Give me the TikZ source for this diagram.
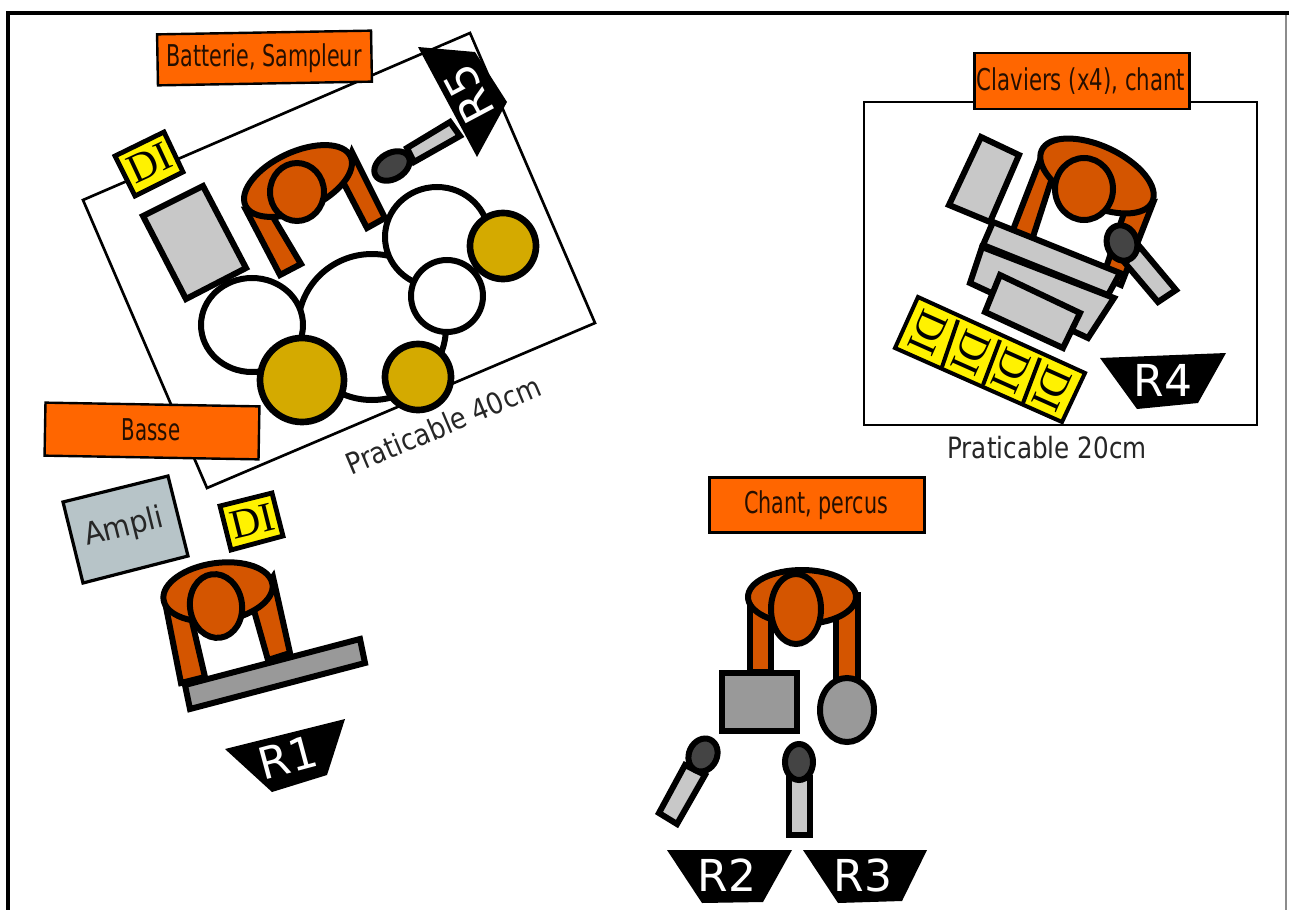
\documentclass[tikz,border=0pt]{standalone}
\usepackage{fontspec}
\usepackage{graphicx}
\setmainfont{DejaVu Sans}
\newfontfamily\difont{Liberation Serif}
\definecolor{labelor}{HTML}{FF6600}
\definecolor{bodyor}{HTML}{D45500}
\definecolor{goldc}{HTML}{D4AA00}
\definecolor{lgray}{HTML}{C8C8C8}
\definecolor{mgray}{HTML}{999999}
\definecolor{dgray}{HTML}{444444}
\definecolor{ampc}{HTML}{B7C4C8}
\newcommand{\sq}[2]{\scalebox{#1}[1]{#2}}
\newcommand{\Elli}[6]{\path[#6,rotate around={#5:(#1,#2)}] (#1,#2) circle[x radius=#3,y radius=#4];}
\tikzset{
 x=0.75pt,y=-0.75pt,
 stage/.style={draw=black,line width=2pt,fill=white,line join=miter},
 thing/.style={draw=black,line width=4.5pt,line join=miter},
 body/.style={thing,fill=bodyor},
 lg/.style={thing,fill=lgray},
 mg/.style={thing,fill=mgray},
 headc/.style={thing,fill=dgray},
 drum/.style={thing,fill=white},
 cym/.style={thing,fill=goldc,line width=5pt},
 tagbox/.style={draw=black,line width=1.8pt,fill=labelor},
 tagtxt/.style={inner sep=0pt,text=black!85!labelor,font=\fontsize{22.5}{26}\selectfont},
 ditag/.style={draw=black,line width=3.6pt,fill=yellow},
 ditxt/.style={inner sep=0pt,font=\difont\fontsize{31}{32}\selectfont},
 rowdi/.style={inner sep=0pt,font=\difont\fontsize{31}{32}\selectfont},
 rbox/.style={fill=black},
 rtxt/.style={inner sep=0pt,text=white,font=\fontsize{33}{36}\selectfont},
 captxt/.style={inner sep=0pt,text=black!85,font=\fontsize{22}{26}\selectfont},
}
\begin{document}
\begin{tikzpicture}
\useasboundingbox (0,0) rectangle (1289,910);
\fill[white] (0,0) rectangle (1289,910);
% frame
\draw[black!45,line width=1.5pt] (1286,13) -- (1286,910);
\draw[black,line width=3.4pt] (8,910) -- (8,13) -- (1289,13);
% stage 1
\draw[stage] (83,200) -- (470,33) -- (595,323) -- (207,488) -- cycle;
% drummer
\draw[lg] (143,216) -- (203,186) -- (246,268) -- (186,299) -- cycle;
\draw[body] (246,210) -- (280,275) -- (301,264) -- (270,212) -- cycle;
\draw[body] (352,152) -- (385,218) -- (367,228) -- (342,180) -- cycle;
\Elli{298}{181}{58}{29}{25}{body}
\Elli{297}{192}{27}{29}{0}{body}
\draw[lg] (407,148) -- (450,122) -- (460,136) -- (414,162) -- cycle;
\Elli{392}{166}{19}{13}{30}{headc}
% drums
\Elli{372}{327}{74}{73}{0}{drum}
\Elli{252}{325}{51}{47}{0}{drum}
\Elli{437}{237}{52}{50}{0}{drum}
\Elli{503}{246}{33}{33}{0}{cym}
\Elli{447}{296}{36}{36}{0}{drum}
\Elli{302}{380}{42}{42}{0}{cym}
\Elli{418}{377}{33}{33}{0}{cym}
% labels stage 1
\node[tagbox,minimum width=214pt*0.75,minimum height=51pt*0.75,rotate=1,inner sep=0pt] (batt) at (264.5,58) {};
\node[tagtxt] (batttxt) at (264,58) {\sq{.69}{Batterie, Sampleur}};
\path[ditag] (115,156) -- (164,132) -- (183,172) -- (135,196) -- cycle;
\node[ditxt,rotate=25] (di1) at (150,163) {DI};
\fill[rbox] (418,47) -- (475,52) -- (507,102) -- (477,157) -- cycle;
\fill[white] (441,47) -- (470,37) -- (475,50) -- cycle;
\node[rtxt,rotate=118] (r5) at (469,94) {R5};
\node[captxt,rotate=23] (p40) at (443,425) {\sq{.88}{Praticable 40cm}};
\node[tagbox,minimum width=214pt*0.75,minimum height=53pt*0.75,rotate=-1,inner sep=0pt] (basse) at (152,431) {};
\node[tagtxt] (bassetxt) at (151,430) {\sq{.66}{Basse}};
% bass
\path[draw=black,line width=2.4pt,fill=ampc] (63,502) -- (168,476) -- (188,556) -- (83,583) -- cycle;
\node[captxt,rotate=14,font=\fontsize{23}{26}\selectfont] (ampli) at (124,528) {\sq{.92}{Ampli}};
\path[ditag] (220,506) -- (272,493) -- (283,536) -- (231,550) -- cycle;
\node[ditxt,rotate=14] (di2) at (252,521) {DI};
\draw[body] (166,607) -- (181,683) -- (205,677) -- (190,613) -- cycle;
\draw[body] (253,607) -- (268,660) -- (290,653) -- (273,577) -- cycle;
\Elli{218}{592}{55}{29}{8}{body}
\Elli{216}{606}{26}{32}{8}{body}
\draw[mg] (185,685) -- (360,639) -- (365,663) -- (190,709) -- cycle;
\fill[rbox] (225,749) -- (345,719) -- (327,775) -- (272,792) -- cycle;
\node[rtxt,rotate=15] (r1) at (288,757) {R1};
% chant
\node[tagbox,minimum width=215pt*0.75,minimum height=55pt*0.75,inner sep=0pt] (chant) at (817,505) {};
\node[tagtxt] (chanttxt) at (816,505) {\sq{.69}{Chant, percus}};
\draw[body] (750,595) rectangle (771,672);
\draw[body] (836,595) rectangle (858,680);
\Elli{802}{597}{54}{27}{0}{body}
\Elli{796}{609}{25}{35}{0}{body}
\draw[mg] (722,673) rectangle (797,731);
\Elli{847}{710}{27}{32}{0}{mg}
\draw[lg] (685,765) -- (705,775) -- (677,824) -- (659,813) -- cycle;
\Elli{703}{755}{14}{17}{-25}{headc}
\draw[lg] (789,778) rectangle (810,835);
\Elli{799}{762}{14}{18}{0}{headc}
\fill[rbox] (667,850) -- (792,850) -- (763,902) -- (702,903) -- cycle;
\node[rtxt] (r2) at (727,875) {R2};
\fill[rbox] (803,850) -- (927,850) -- (902,901) -- (838,903) -- cycle;
\node[rtxt] (r3) at (863,875) {R3};
% stage 2
\draw[stage] (864,102) rectangle (1257,425);
\node[tagbox,minimum width=215pt*0.75,minimum height=56pt*0.75,inner sep=0pt] (clav) at (1082,81) {};
\node[tagtxt] (clavtxt) at (1081,81) {\sq{.71}{Claviers (x4), chant}};
\draw[lg] (981,137) -- (1019,155) -- (990,222) -- (949,205) -- cycle;
\draw[body] (1042,155) -- (1011,235) -- (1031,243) -- (1053,175) -- cycle;
\draw[body] (1153,203) -- (1121,285) -- (1103,277) -- (1125,210) -- cycle;
\Elli{1097}{176}{61}{30}{-25}{body}
\Elli{1084}{189}{29}{31}{0}{body}
\draw[lg] (982,247) -- (1114,298) -- (1088,338) -- (970,283) -- cycle;
\draw[lg] (993,222) -- (1120,273) -- (1108,295) -- (983,245) -- cycle;
\draw[lg] (1000,275) -- (1080,313) -- (1063,348) -- (985,312) -- cycle;
\draw[lg] (1140,247) -- (1176,290) -- (1158,302) -- (1125,263) -- cycle;
\Elli{1122}{243}{15}{18}{20}{headc}
\path[draw=black,line width=3pt,fill=yellow] (918,297) -- (1085,373) -- (1062,422) -- (895,348) -- cycle;
\draw[black,line width=3pt] (958,320) -- (942,367) (1000,340) -- (983,385) (1040,358) -- (1023,403);
\node[rowdi,rotate=-114] (d1) at (928,333) {DI};
\node[rowdi,rotate=-114] (d2) at (971,353) {DI};
\node[rowdi,rotate=-114] (d3) at (1011,371) {DI};
\node[rowdi,rotate=-114] (d4) at (1052,389) {DI};
\fill[rbox] (1100,358) -- (1226,353) -- (1198,403) -- (1137,409) -- cycle;
\node[rtxt] (r4) at (1163,380) {R4};
\node[captxt] (p20) at (1047,448) {\sq{.84}{Praticable 20cm}};
\end{tikzpicture}
\end{document}
